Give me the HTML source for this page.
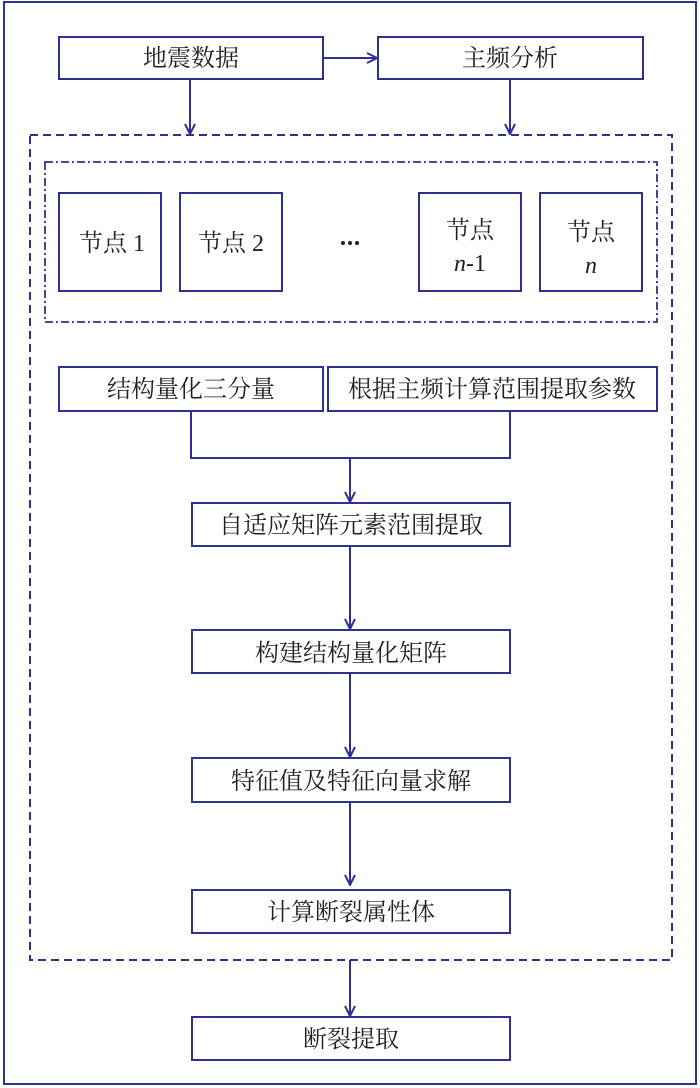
<!DOCTYPE html>
<html><head><meta charset="utf-8"><style>
html,body{margin:0;padding:0;background:#fff;}
svg{display:block;}
text{font-family:"Liberation Serif","Noto Serif CJK SC","Noto Sans CJK SC",serif;fill:#231f20;font-size:24px;}
</style></head><body>
<svg width="700" height="1088" viewBox="0 0 700 1088" xmlns="http://www.w3.org/2000/svg">
<defs>
<marker id="a" viewBox="0 0 12 12" refX="11" refY="6" markerWidth="12" markerHeight="12" markerUnits="userSpaceOnUse" orient="auto">
<path d="M1,1 L11,6 L1,11" fill="none" stroke="#2e3192" stroke-width="2"/>
</marker>
</defs>
<g fill="none" stroke="#2e3192" stroke-width="2">
<rect x="4" y="2" width="692" height="1082"/>
<rect x="59" y="37" width="264" height="42"/>
<rect x="378" y="37" width="265" height="42"/>
<line x1="323" y1="58" x2="377" y2="58" marker-end="url(#a)"/>
<line x1="190" y1="79" x2="190" y2="134" marker-end="url(#a)"/>
<line x1="510" y1="79" x2="510" y2="134" marker-end="url(#a)"/>
<rect x="30" y="135" width="642" height="825" stroke-dasharray="8,5"/>
<rect x="45" y="162" width="612" height="160" stroke-width="1.8" stroke-dasharray="8,3,2,3"/>
<rect x="59" y="193" width="102" height="98"/>
<rect x="180" y="193" width="102" height="98"/>
<rect x="419" y="193" width="102" height="98"/>
<rect x="540" y="193" width="102" height="98"/>
<rect x="59" y="367" width="264" height="44"/>
<rect x="328" y="367" width="329" height="44"/>
<polyline points="191,411 191,458 510,458 510,411"/>
<line x1="350" y1="458" x2="350" y2="502" marker-end="url(#a)"/>
<rect x="192" y="503" width="318" height="43"/>
<line x1="350" y1="546" x2="350" y2="629" marker-end="url(#a)"/>
<rect x="192" y="630" width="318" height="43"/>
<line x1="350" y1="673" x2="350" y2="757" marker-end="url(#a)"/>
<rect x="192" y="758" width="318" height="44"/>
<line x1="350" y1="802" x2="350" y2="885" marker-end="url(#a)"/>
<rect x="192" y="890" width="318" height="43"/>
<line x1="350" y1="960" x2="350" y2="1016" marker-end="url(#a)"/>
<rect x="192" y="1017" width="318" height="43"/>
</g>
<g fill="#231f20">
<circle cx="343" cy="243" r="2"/><circle cx="350" cy="243" r="2"/><circle cx="357" cy="243" r="2"/>
</g>
<g text-anchor="middle">
<text x="191" y="66">地震数据</text>
<text x="510" y="66">主频分析</text>
<text x="112" y="251">节点 1</text>
<text x="231" y="251">节点 2</text>
<text x="470" y="238">节点</text>
<text x="470" y="271"><tspan font-style="italic">n</tspan>-1</text>
<text x="591" y="240">节点</text>
<text x="591" y="273" font-style="italic">n</text>
<text x="191" y="397">结构量化三分量</text>
<text x="492" y="397">根据主频计算范围提取参数</text>
<text x="351" y="533">自适应矩阵元素范围提取</text>
<text x="351" y="661">构建结构量化矩阵</text>
<text x="351" y="789">特征值及特征向量求解</text>
<text x="351" y="920">计算断裂属性体</text>
<text x="351" y="1047">断裂提取</text>
</g>
</svg>
</body></html>
